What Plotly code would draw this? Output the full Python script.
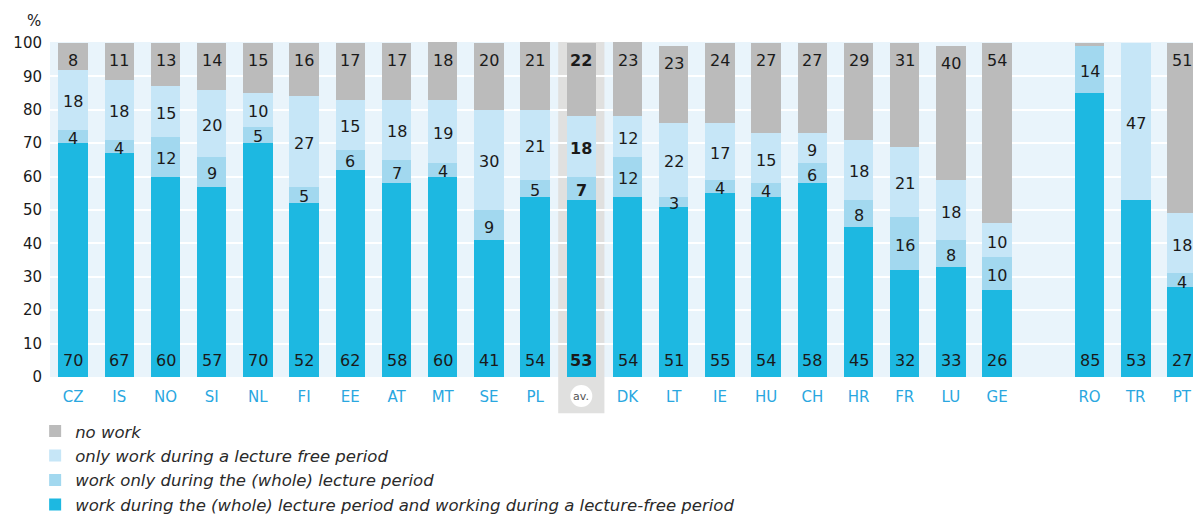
import plotly.graph_objects as go

# Country codes; the blank slot separates the last three countries
countries = ["CZ", "IS", "NO", "SI", "NL", "FI", "EE", "AT", "MT", "SE", "PL", "av.",
             "DK", "LT", "IE", "HU", "CH", "HR", "FR", "LU", "GE", " ", "RO", "TR", "PT"]

# Shares of students (%) by working pattern
both_periods = [70, 67, 60, 57, 70, 52, 62, 58, 60, 41, 54, 53,
                54, 51, 55, 54, 58, 45, 32, 33, 26, None, 85, 53, 27]
lecture_only = [4, 4, 12, 9, 5, 5, 6, 7, 4, 9, 5, 7,
                12, 3, 4, 4, 6, 8, 16, 8, 10, None, 14, None, 4]
free_only = [18, 18, 15, 20, 10, 27, 15, 18, 19, 30, 21, 18,
             12, 22, 17, 15, 9, 18, 21, 18, 10, None, None, 47, 18]
no_work = [8, 11, 13, 14, 15, 16, 17, 17, 18, 20, 21, 22,
           23, 23, 24, 27, 27, 29, 31, 40, 54, None, 1, None, 51]
# values too small to carry a printed label
unlabeled_no_work = {"RO"}

series = [
    ("work during the (whole) lecture period and working during a lecture-free period", both_periods, "#1db8e1"),
    ("work only during the (whole) lecture period", lecture_only, "#a2d8ef"),
    ("only work during a lecture free period", free_only, "#c6e6f7"),
    ("no work", no_work, "#bbbbbb"),
]

AVG = "av."
avg_idx = countries.index(AVG)
FONT = "DejaVu Sans"
TXT = "#1a1a1a"
Y_MAX = 100.3
LABEL_FONT = dict(family=FONT, size=16, color=TXT)


def fmt(v, c):
    if v is None:
        return ""
    s = str(v)
    return f"<b>{s}</b>" if c == AVG else s


fig = go.Figure()

for name, vals, color in series:
    fig.add_trace(go.Bar(
        x=countries, y=vals, name=name,
        marker=dict(color=color, line=dict(width=0)),
        hoverinfo="skip",
    ))

annotations = []
for k, c in enumerate(countries):
    base = 0
    for i, (_, vals, _) in enumerate(series):
        v = vals[k]
        if v is None:
            continue
        top = base + v
        if i == 0:
            # bottom segment: label sits at the bar base
            annotations.append(dict(x=c, y=0, text=fmt(v, c), yanchor="bottom", yshift=5))
        elif i == len(series) - 1:
            # top segment: label hangs from the stack top (kept inside the axis range)
            if c not in unlabeled_no_work:
                annotations.append(dict(x=c, y=min(top, 100), text=fmt(v, c),
                                        yanchor="top", yshift=-6))
        else:
            # middle segments: label centred on the segment
            annotations.append(dict(x=c, y=(base + top) / 2, text=fmt(v, c),
                                    yanchor="middle", yshift=-2))
        base = top

for a in annotations:
    a.update(xref="x", yref="y", showarrow=False, font=LABEL_FONT)

# unit label
annotations.append(dict(x=0, y=1, xref="paper", yref="paper", text="%",
                        showarrow=False, xanchor="right", yanchor="bottom",
                        xshift=-7, yshift=10,
                        font=dict(family=FONT, size=15, color=TXT)))
# average marker below the axis
AV_Y = -0.057
annotations.append(dict(x=avg_idx, y=AV_Y, xref="x", yref="paper", text="av.",
                        showarrow=False, xanchor="center", yanchor="middle",
                        font=dict(family=FONT, size=11, color="#555555")))

shapes = [
    # grey band behind the average column
    dict(type="rect", xref="x", yref="paper", x0=avg_idx - 0.5, x1=avg_idx + 0.5,
         y0=-0.108, y1=1, fillcolor="#e0e0df", line=dict(width=0), layer="below"),
    # white disc behind the average tick label
    dict(type="circle", xref="x", yref="paper", xsizemode="pixel", ysizemode="pixel",
         xanchor=avg_idx, yanchor=AV_Y, x0=-11, x1=11, y0=-11, y1=11,
         fillcolor="white", line=dict(width=0), layer="above"),
]

ticktext = ["" if c == AVG else c for c in countries]

fig.update_layout(
    width=1193, height=520,
    margin=dict(l=50, r=0, t=42, b=143, autoexpand=False),
    barmode="stack", bargap=0.36,
    paper_bgcolor="white", plot_bgcolor="#e9f4fb",
    font=dict(family=FONT, color=TXT),
    xaxis=dict(type="category", categoryorder="array", categoryarray=countries,
               tickmode="array", tickvals=countries, ticktext=ticktext,
               range=[-0.5, 24.24], showgrid=False, zeroline=False, showline=False,
               ticks="", ticklabelstandoff=9,
               tickfont=dict(family=FONT, size=15, color="#2aa7df")),
    yaxis=dict(range=[0, Y_MAX], dtick=10, tick0=0, showgrid=True,
               gridcolor="white", gridwidth=2, zeroline=False, showline=False,
               ticks="", ticklabelstandoff=7,
               tickfont=dict(family=FONT, size=15, color=TXT)),
    legend=dict(orientation="v", traceorder="reversed", x=-0.013, xanchor="left",
                y=-0.11, yanchor="top", bgcolor="rgba(0,0,0,0)",
                font=dict(family=FONT, size=16.5, color="#2a2a2a", style="italic")),
    annotations=annotations,
    shapes=shapes,
)

fig.write_html("out.html")
